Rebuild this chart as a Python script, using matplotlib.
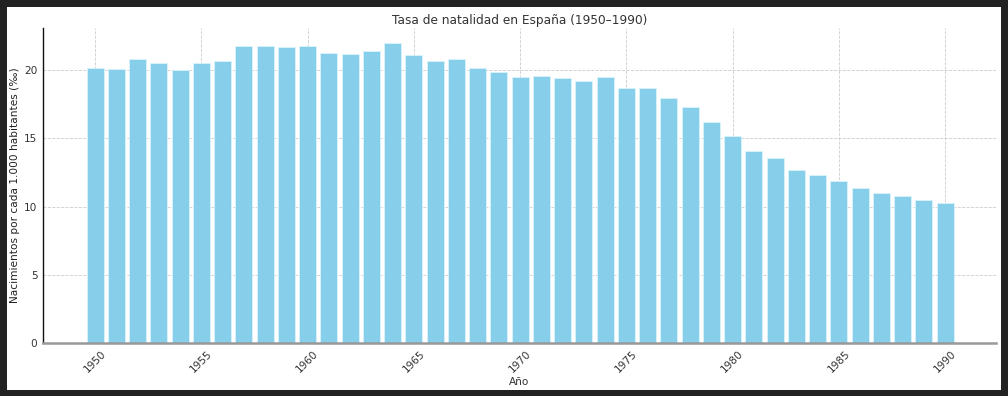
import matplotlib
matplotlib.use("Agg")
import matplotlib.pyplot as plt
from matplotlib.patches import Rectangle

years = list(range(1950, 1991))
rates = [20.2, 20.1, 20.8, 20.5, 20.0, 20.5, 20.7, 21.8, 21.8, 21.7,
         21.8, 21.3, 21.2, 21.4, 22.0, 21.1, 20.7, 20.8, 20.2, 19.9,
         19.5, 19.6, 19.4, 19.2, 19.5, 18.7, 18.7, 18.0, 17.3, 16.2,
         15.2, 14.1, 13.6, 12.7, 12.3, 11.9, 11.4, 11.0, 10.8, 10.5,
         10.3]
xticks = [1950, 1955, 1960, 1965, 1970, 1975, 1980, 1985, 1990]
yticks = [0, 5, 10, 15, 20]

W, H = 1008, 396
fig = plt.figure(figsize=(W / 100, H / 100), dpi=100, facecolor="#222222")
fig.add_artist(Rectangle((7 / W, 1 - 390 / H), (1001 - 7) / W, (390 - 7) / H,
                         transform=fig.transFigure, facecolor="white",
                         edgecolor="none", zorder=-10))
ax = fig.add_axes([43 / W, 1 - 343 / H, (996 - 43) / W, (343 - 28) / H])
ax.set_facecolor("white")

ax.bar(years, rates, width=0.8, color="skyblue", edgecolor="#d8f4fa",
       linewidth=0.6, zorder=2)

ax.set_xlim(1947.55, 1992.4)
ax.set_ylim(0, 23.1)
ax.set_xticks(xticks)
ax.set_xticklabels([str(x) for x in xticks], rotation=45, fontsize=7.6,
                   color="#333333")
ax.set_yticks(yticks)
ax.set_yticklabels([str(y) for y in yticks], fontsize=7.6, color="#333333")
ax.tick_params(axis="y", length=0, pad=4)
ax.tick_params(axis="x", direction="in", length=3, width=1, color="#222222",
               pad=4)

ax.grid(True, linestyle="--", linewidth=0.6, color="#cccccc", zorder=0)
ax.set_axisbelow(True)

for s in ["top", "right"]:
    ax.spines[s].set_visible(False)
ax.spines["left"].set_color("#111111")
ax.spines["left"].set_linewidth(1.0)
ax.spines["bottom"].set_color("#999999")
ax.spines["bottom"].set_linewidth(1.8)

ax.set_title("Tasa de natalidad en España (1950–1990)", fontsize=8.7,
             color="#333333", pad=3)
ax.set_xlabel("Año", fontsize=7.6, color="#333333", labelpad=2)
ax.set_ylabel("Nacimientos por cada 1.000 habitantes (‰)", fontsize=7.6,
              color="#222222", labelpad=3)

fig.savefig("out.png", dpi=100, facecolor=fig.get_facecolor())
